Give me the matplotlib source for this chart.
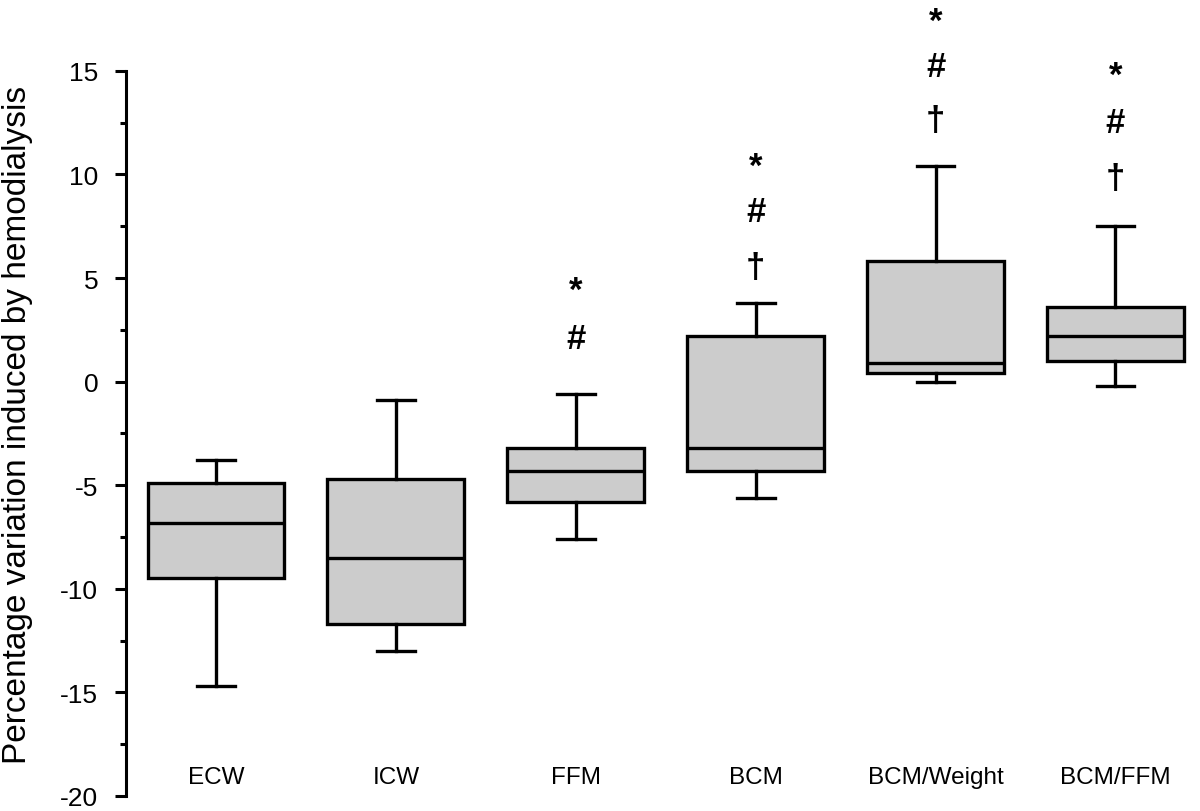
import matplotlib
matplotlib.use("Agg")
import matplotlib.pyplot as plt
from matplotlib.ticker import FixedLocator

plt.rcParams['font.family'] = ['Liberation Sans', 'DejaVu Sans']
plt.rcParams['axes.unicode_minus'] = False

# data
categories = ['ECW', 'ICW', 'FFM', 'BCM', 'BCM/Weight', 'BCM/FFM']
whislo = [-14.7, -13.0, -7.6, -5.6, 0.0, -0.2]
q1 = [-9.5, -11.7, -5.8, -4.3, 0.4, 1.0]
med = [-6.8, -8.5, -4.3, -3.2, 0.9, 2.2]
q3 = [-4.9, -4.7, -3.2, 2.2, 5.8, 3.6]
whishi = [-3.8, -0.9, -0.6, 3.8, 10.4, 7.5]

# significance marks per box: (symbol, y)
marks = {
    2: [('*', 4.4), ('#', 2.1)],
    3: [('*', 10.4), ('#', 8.2), ('\u2020', 5.5)],
    4: [('*', 17.4), ('#', 15.2), ('\u2020', 12.6)],
    5: [('*', 14.8), ('#', 12.5), ('\u2020', 9.8)],
}

stats = []
for i in range(len(categories)):
    stats.append({'whislo': whislo[i], 'q1': q1[i], 'med': med[i],
                  'q3': q3[i], 'whishi': whishi[i], 'fliers': []})

fig = plt.figure(figsize=(12, 8.12), dpi=100)
ax = fig.add_axes([0.105, 0.0185, 0.895, 0.9815])

lw = 2.4
ax.bxp(stats, positions=range(len(categories)), widths=0.76, patch_artist=True,
       showfliers=False,
       boxprops=dict(facecolor='#cccccc', edgecolor='black', linewidth=lw),
       medianprops=dict(color='black', linewidth=lw),
       whiskerprops=dict(color='black', linewidth=lw),
       capprops=dict(color='black', linewidth=lw),
       capwidths=0.21)

for i, lst in marks.items():
    for sym, y in lst:
        ax.text(i, y, sym, ha='center', va='center', fontsize=25, fontweight='bold')

for i, c in enumerate(categories):
    ax.text(i, -19.1, c, ha='center', va='center', fontsize=17.5)

ax.set_xlim(-0.5, 5.47)
ax.set_ylim(-20, 18.47)
ax.spines['left'].set_bounds(-20, 15)
ax.spines['left'].set_linewidth(2.2)
for s in ['top', 'right', 'bottom']:
    ax.spines[s].set_visible(False)
ax.set_xticks([])
ax.set_yticks(range(-20, 16, 5))
ax.yaxis.set_minor_locator(FixedLocator([-17.5, -12.5, -7.5, -2.5, 2.5, 7.5, 12.5]))
ax.tick_params(axis='y', which='major', length=8, width=2.2, labelsize=19, pad=12)
ax.tick_params(axis='y', which='minor', length=4, width=2.2)
ax.set_ylabel('Percentage variation induced by hemodialysis', fontsize=24)
ax.yaxis.set_label_coords(-0.087, 0.467)

fig.savefig('out.png', dpi=100)
